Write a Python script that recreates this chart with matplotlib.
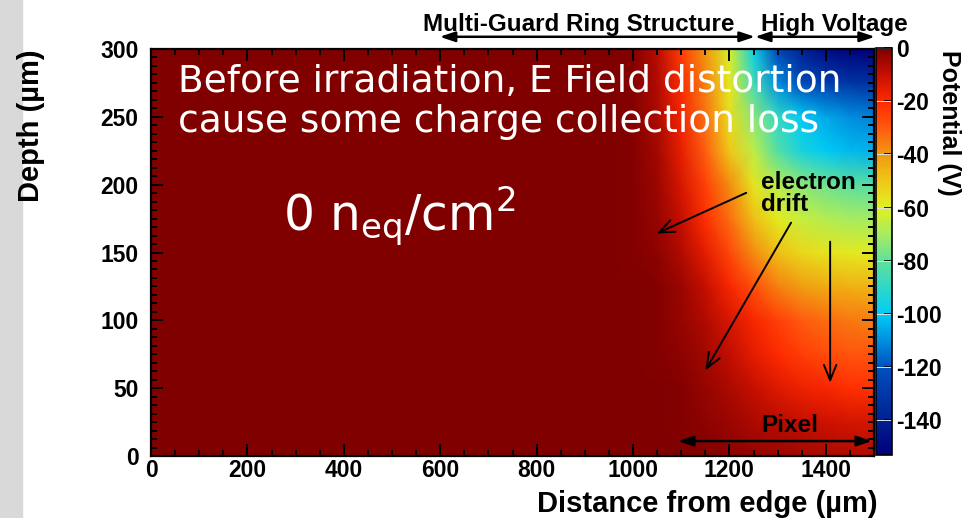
import numpy as np
import matplotlib
matplotlib.use("Agg")
import matplotlib.pyplot as plt
from matplotlib.ticker import MultipleLocator, AutoMinorLocator, FixedLocator
from matplotlib.patches import Rectangle
from matplotlib.colors import LinearSegmentedColormap

plt.rcParams['axes.unicode_minus'] = False

x_um = [0, 950, 1000, 1050, 1100, 1150, 1200, 1250, 1300, 1350, 1400, 1450, 1500]
depth_um = [0, 25, 50, 75, 100, 125, 150, 175, 200, 225, 250, 275, 300]
pot_d0   = [0, 0, 0, 0, 0, -1, -2, -3, -4, -5, -6, -7, -7]
pot_d25  = [0, 0, 0, 0, -1, -2, -4, -6, -8, -10, -11, -12, -12]
pot_d50  = [0, 0, 0, 0, -1, -3, -6, -10, -14, -17, -19, -21, -22]
pot_d75  = [0, 0, 0, -1, -2, -5, -9, -15, -20, -24, -27, -29, -29]
pot_d100 = [0, 0, 0, -1, -3, -7, -13, -19, -25, -30, -33, -35, -36]
pot_d125 = [0, 0, 0, -1, -4, -10, -19, -28, -36, -41, -44, -45, -46]
pot_d150 = [0, 0, -1, -2, -7, -15, -26, -38, -48, -54, -57, -58, -59]
pot_d175 = [0, 0, -1, -3, -10, -21, -33, -48, -59, -65, -68, -70, -71]
pot_d200 = [0, 0, -1, -4, -13, -25, -38, -57, -67, -74, -78, -81, -82]
pot_d225 = [0, 0, -1, -5, -16, -31, -50, -66, -83, -95, -100, -103, -104]
pot_d250 = [0, 0, -1, -6, -18, -34, -55, -74, -90, -100, -106, -110, -112]
pot_d275 = [0, 0, -1, -7, -20, -36, -58, -86, -110, -122, -128, -131, -133]
pot_d300 = [0, 0, -1, -8, -24, -40, -62, -98, -125, -140, -148, -152, -153]
cbar_ticks = [0, -20, -40, -60, -80, -100, -120, -140]
x_ticks = [0, 200, 400, 600, 800, 1000, 1200, 1400]
y_ticks = [0, 50, 100, 150, 200, 250, 300]

V = np.array([pot_d0, pot_d25, pot_d50, pot_d75, pot_d100, pot_d125, pot_d150,
              pot_d175, pot_d200, pot_d225, pot_d250, pot_d275, pot_d300])
X, Y = np.meshgrid(x_um, depth_um)

VMIN, VMAX = -153, 0
stops = [(-153, '#00007a'), (-143, '#001a8c'), (-130, '#0038a8'), (-120, '#0050c0'),
         (-110, '#0090e0'), (-100, '#00ccf5'), (-90, '#30d8c8'), (-80, '#60e09a'),
         (-70, '#a8ec60'), (-60, '#e0f020'), (-50, '#f0c818'), (-40, '#f09a10'),
         (-30, '#ff5a10'), (-20, '#ff2a00'), (-10, '#c81000'), (0, '#800000')]
cmap = LinearSegmentedColormap.from_list(
    'rootrainbow', [((v - VMIN) / (VMAX - VMIN), c) for v, c in stops])

W, H = 963, 518
fig = plt.figure(figsize=(W / 100, H / 100), dpi=100)
fig.patches.append(Rectangle((0, 0), 22 / W, 1, transform=fig.transFigure,
                             color='#d9d9d9', zorder=-10))

ax = fig.add_axes([151 / W, 1 - 456 / H, 723 / W, 407 / H])
mesh = ax.pcolormesh(X, Y, V, shading='gouraud', cmap=cmap, vmin=VMIN, vmax=VMAX)
ax.set_xlim(0, 1500)
ax.set_ylim(0, 300)

bold = dict(family='Liberation Sans', weight='bold')
tick_fs = 16.5

ax.xaxis.set_major_locator(FixedLocator(x_ticks))
ax.xaxis.set_minor_locator(MultipleLocator(50))
ax.yaxis.set_major_locator(FixedLocator(y_ticks))
ax.yaxis.set_minor_locator(AutoMinorLocator(8))
ax.tick_params(which='both', direction='in', top=True, right=True, width=1.4, color='black')
ax.tick_params(which='major', length=8.5)
ax.tick_params(which='minor', length=4)
ax.tick_params(axis='x', pad=2)
ax.tick_params(axis='y', pad=9)
for lab in ax.get_xticklabels() + ax.get_yticklabels():
    lab.set_fontfamily('Liberation Sans')
    lab.set_fontweight('bold')
    lab.set_fontsize(tick_fs)
for s in ax.spines.values():
    s.set_linewidth(1.6)

ax.set_xlabel('Distance from edge (µm)', loc='right', fontsize=21, **bold)
ax.xaxis.set_label_coords(1.005, -0.083)
ax.xaxis.label.set_va('top')
ax.set_ylabel('Depth (µm)', loc='top', fontsize=21, **bold)
ax.yaxis.set_label_coords(-0.146, 1.0)

# colorbar
cax = fig.add_axes([876 / W, 1 - 455 / H, 16 / W, 407 / H])
cb = fig.colorbar(mesh, cax=cax, ticks=cbar_ticks)
cb.outline.set_linewidth(1.2)
cax.tick_params(direction='in', length=6, width=1.2, pad=3)
for t in cbar_ticks:
    cax.axhline(t, color='#e0e0e0', lw=0.7)
for lab in cax.get_yticklabels():
    lab.set_fontfamily('Liberation Sans')
    lab.set_fontweight('bold')
    lab.set_fontsize(tick_fs)
fig.text(949 / W, 1 - 50 / H, 'Potential (V)', rotation=270, ha='center', va='top',
         fontsize=18, **bold)

# white overlay texts
ax.text(56, 268, 'Before irradiation, E Field distortion', color='white',
        fontsize=27, family='DejaVu Sans', va='baseline', ha='left')
ax.text(56, 239, 'cause some charge collection loss', color='white',
        fontsize=27, family='DejaVu Sans', va='baseline', ha='left')
ax.text(274, 166, r'0 n$_{\mathregular{eq}}$/cm$^{\mathregular{2}}$', color='white',
        fontsize=35, family='DejaVu Sans', va='baseline', ha='left')

# black annotations
ax.text(1266, 210, 'electron\ndrift', fontsize=17.5, va='top', ha='left',
        linespacing=0.95, **bold)
ax.text(1326, 18, 'Pixel', fontsize=17.5, va='baseline', ha='center', **bold)
ax.text(888, 313, 'Multi-Guard Ring Structure', fontsize=17.5, va='baseline',
        ha='center', clip_on=False, **bold)
ax.text(1417, 313, 'High Voltage', fontsize=17.5, va='baseline', ha='center',
        clip_on=False, **bold)

dbl = dict(arrowstyle='<|-|>, head_length=0.9, head_width=0.3', lw=1.8,
           color='black', shrinkA=0, shrinkB=0)
ax.annotate('', xy=(599, 309), xytext=(1253, 309), arrowprops=dbl, annotation_clip=False)
ax.annotate('', xy=(1253, 309), xytext=(1502, 309), arrowprops=dbl, annotation_clip=False)
ax.annotate('', xy=(1093, 11), xytext=(1496, 11), arrowprops=dbl, annotation_clip=False)

thin = dict(arrowstyle='->, head_length=1.1, head_width=0.45', lw=1.4,
            color='black', shrinkA=0, shrinkB=0)
ax.annotate('', xy=(1049, 164), xytext=(1235, 194), arrowprops=thin)
ax.annotate('', xy=(1150, 63), xytext=(1328, 172), arrowprops=thin)
ax.annotate('', xy=(1409, 54), xytext=(1409, 158), arrowprops=thin)

fig.savefig('out.png', dpi=100)
